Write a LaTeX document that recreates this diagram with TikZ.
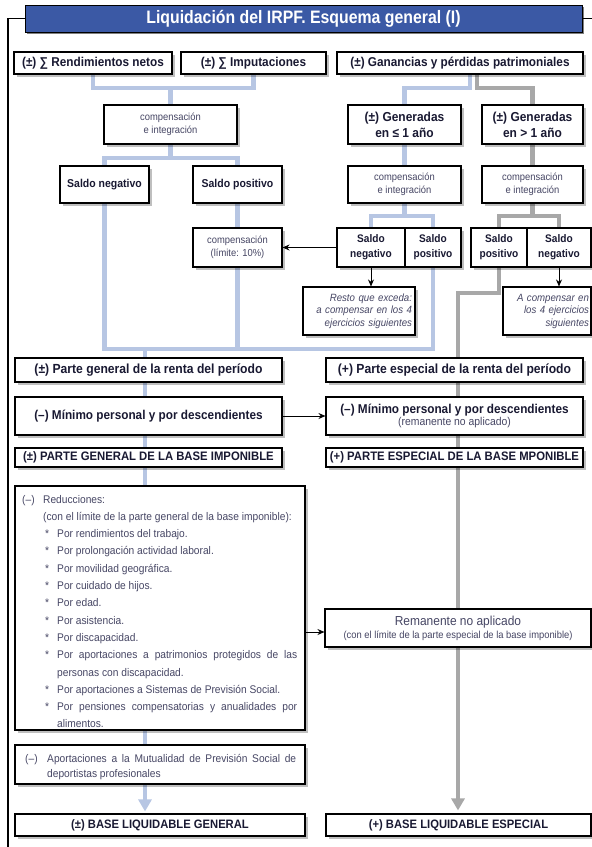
\documentclass[tikz,border=0pt]{standalone}
\usepackage{fontspec}
\setmainfont{Liberation Sans}
\newfontfamily\cf[FakeStretch=0.92]{Liberation Sans}
\newfontfamily\tf[FakeStretch=0.88]{Liberation Sans}
\usetikzlibrary{shadows,arrows.meta,backgrounds}
\definecolor{lb}{RGB}{183,198,227}
\definecolor{gl}{RGB}{168,168,168}
\definecolor{tb}{RGB}{59,89,165}
\definecolor{tx}{RGB}{25,25,50}
\definecolor{lt}{RGB}{70,70,100}
\newcommand\hdrline[3]{\par\noindent\hangindent=#1\hangafter=1\makebox[#1][l]{#2}#3\par}
\newcommand\ritem[1]{\par\noindent\hangindent=35pt\hangafter=1\hspace*{23pt}\makebox[12pt][l]{*}#1\par}
\newcommand\fs[2]{\fontsize{#1}{#2}\selectfont}
\begin{document}
\begin{tikzpicture}[x=1pt,y=-1pt,
  box/.style={draw=black, line width=1.1pt, fill=white, inner sep=1pt, align=center, text=tx,
    drop shadow={shadow xshift=2.5pt, shadow yshift=-2.5pt, fill=black, opacity=0.25}},
  bt/.style={font=\cf\bfseries\fs{12.8}{15}},
  lx/.style={font=\cf\fs{10.2}{13}, text=lt},
  bl/.style={draw=lb, line width=4.5pt},
  gr/.style={draw=gl, line width=4.5pt},
  arr/.style={draw=black, line width=0.9pt, -{Stealth[length=7pt,width=6pt]}},
  frame/.style={draw=black, line width=1.1pt}
]
\useasboundingbox (0,0) rectangle (592,847);
\clip (0,0) rectangle (592,847);
% title
\node[fill=tb, draw=black, line width=0.6pt, minimum width=557pt, minimum height=27pt, inner sep=0pt,
  text=white, font=\tf\bfseries\fs{18}{20},
  drop shadow={shadow xshift=2pt, shadow yshift=-2pt, fill=black, opacity=0.5}] (title) at (303.5,18.5)
  {Liquidación del IRPF. Esquema general (I)};
% row 1
\node[box,bt,minimum width=158pt,minimum height=22pt] (rend) at (93,63) {(±) ∑ Rendimientos netos};
\node[box,bt,minimum width=145pt,minimum height=22pt] (imput) at (253.5,63) {(±) ∑ Imputaciones};
\node[box,bt,minimum width=246pt,minimum height=22pt] (ganan) at (460,63) {(±) Ganancias y pérdidas patrimoniales};
% left branch
\node[box,lx,minimum width=133pt,minimum height=39pt] (comp1) at (170.5,124.5) {compensación\\e integración};
\node[box,font=\cf\bfseries\fs{11.4}{15},minimum width=89pt,minimum height=37pt] (sneg1) at (104.5,184.5) {Saldo negativo};
\node[box,font=\cf\bfseries\fs{11.4}{15},minimum width=89pt,minimum height=37pt] (spos1) at (237.5,184.5) {Saldo positivo};
\node[box,lx,minimum width=89pt,minimum height=39pt,font=\cf\fs{10.2}{12.5}] (comp10) at (237.5,247.5) {compensación\\(límite: 10\%)};
% right branch
\node[box,minimum width=113pt,minimum height=39pt,font=\cf\bfseries\fs{13}{16}] (gen1) at (404.5,124.5) {(±) Generadas\\en ≤ 1 año};
\node[box,minimum width=101pt,minimum height=39pt,font=\cf\bfseries\fs{13}{16}] (gen2) at (532.5,124.5) {(±) Generadas\\en > 1 año};
\node[box,lx,minimum width=113pt,minimum height=37pt] (comp2) at (404.5,184.5) {compensación\\e integración};
\node[box,lx,minimum width=101pt,minimum height=37pt] (comp3) at (532.5,184.5) {compensación\\e integración};
\node[box,font=\cf\bfseries\fs{11}{15},minimum width=68pt,minimum height=39pt] (sneg2) at (371,247.5) {Saldo\\negativo};
\node[box,font=\cf\bfseries\fs{11}{15},minimum width=56pt,minimum height=39pt] (spos2) at (433,247.5) {Saldo\\positivo};
\node[box,font=\cf\bfseries\fs{11}{15},minimum width=56pt,minimum height=39pt] (spos3) at (499,247.5) {Saldo\\positivo};
\node[box,font=\cf\bfseries\fs{11}{15},minimum width=64pt,minimum height=39pt] (sneg3) at (559,247.5) {Saldo\\negativo};
\node[box,minimum width=112pt,minimum height=48pt,text width=106pt,align=right,text=lt,
  font=\cf\itshape\fs{10.5}{12.5}] (resto) at (359,311) {Resto que exceda:\\a compensar en los 4\\ejercicios siguientes};
\node[box,minimum width=88pt,minimum height=48pt,text width=84pt,align=right,text=lt,
  font=\cf\itshape\fs{10.5}{12.5}] (acomp) at (547,311) {A compensar en\\los 4 ejercicios\\siguientes};
% middle rows
\node[box,font=\cf\bfseries\fs{13.2}{15},minimum width=267pt,minimum height=24pt] (pgen) at (148.5,370) {(±) Parte general de la renta del período};
\node[box,font=\cf\bfseries\fs{13.2}{15},minimum width=257pt,minimum height=24pt] (pesp) at (454.5,370) {(+) Parte especial de la renta del período};
\node[box,font=\cf\bfseries\fs{12.8}{15},minimum width=267pt,minimum height=38pt] (min1) at (148.5,416) {(–) Mínimo personal y por descendientes};
\node[box,minimum width=257pt,minimum height=38pt] (min2) at (454.5,416)
  {{\cf\bfseries\fs{12.8}{14}(–) Mínimo personal y por descendientes}\\[0pt]
   {\cf\fs{11.3}{12}\color{lt}(remanente no aplicado)}};
\node[box,font=\cf\bfseries\fs{12.3}{15},minimum width=267pt,minimum height=19pt] (pgb) at (148.5,457.5) {(±) PARTE GENERAL DE LA BASE IMPONIBLE};
\node[box,font=\cf\bfseries\fs{12.3}{15},minimum width=257pt,minimum height=19pt] (peb) at (454.5,457.5) {(+) PARTE ESPECIAL DE LA BASE MPONIBLE};
% reducciones
\node[box,minimum width=290pt,minimum height=244pt] (red) at (160,608) {};
\node[anchor=north west, text width=275pt, inner sep=0pt, align=justify, text=lt,
  font=\cf\fs{11.1}{17.3}] (redtxt) at (22,485.5) {\parskip=0pt
  \hdrline{21pt}{(–)}{Reducciones:\\(con el límite de la parte general de la base imponible):}
  \ritem{Por rendimientos del trabajo.}
  \ritem{Por prolongación actividad laboral.}
  \ritem{Por movilidad geográfica.}
  \ritem{Por cuidado de hijos.}
  \ritem{Por edad.}
  \ritem{Por asistencia.}
  \ritem{Por discapacidad.}
  \ritem{Por aportaciones a patrimonios protegidos de las\linebreak personas con discapacidad.}
  \ritem{Por aportaciones a Sistemas de Previsión Social.}
  \ritem{Por pensiones compensatorias y anualidades por\linebreak alimentos.}};
\node[box,minimum width=266pt,minimum height=38pt] (reman) at (458,628)
  {{\cf\fs{13}{14}\color{lt}Remanente no aplicado}\\[1pt]
   {\cf\fs{10.2}{11}\color{lt}(con el límite de la parte especial de la base imponible)}};
% aportaciones
\node[box,minimum width=290pt,minimum height=39pt] (aport) at (160,764.5) {};
\node[anchor=north west, text width=271pt, inner sep=0pt, align=justify, text=lt,
  font=\cf\fs{11.1}{15}] (aporttxt) at (25,747.5) {\parskip=0pt
  \hdrline{22pt}{(–)}{Aportaciones a la Mutualidad de Previsión Social de\linebreak deportistas profesionales}};
% bottom
\node[box,font=\cf\bfseries\fs{12.2}{15},minimum width=290pt,minimum height=22pt] (blg) at (160,825) {(±) BASE LIQUIDABLE GENERAL};
\node[box,font=\cf\bfseries\fs{12.2}{15},minimum width=265pt,minimum height=22pt] (ble) at (458.5,825) {(+) BASE LIQUIDABLE ESPECIAL};
% frame
\draw[frame] (title.west) -| (8,850);
\draw[frame] (title.east) -- (600,18.5);
% connectors
\begin{scope}[on background layer]
\coordinate (ja) at (170.5,88);
\draw[bl] (rend.south) |- (ja) -| (imput.south);
\draw[bl] (ja) -- (comp1.north);
\coordinate (jb) at (170.5,158);
\draw[bl] (comp1.south) -- (jb);
\draw[bl] (sneg1.north) |- (jb) -| (spos1.north);
\coordinate (jc) at (104.5,349);
\coordinate (jd) at (433,349);
\draw[bl] (sneg1.south) -- (jc) -- (jd) -- (spos2.south);
\draw[bl] (spos1.south) -- (comp10.north);
\draw[bl] (comp10.south) -- (comp10.south |- jc);
\coordinate (je) at (145,349);
\draw[bl, -{Triangle[length=12pt,width=13pt]}, shorten >=2pt] (je) -- (je |- blg.north);
\coordinate (jf) at (404.5,88);
\draw[bl] ([xshift=10pt]ganan.south) |- (jf) -- (gen1.north);
\draw[bl] (gen1.south) -- (comp2.north);
\coordinate (jg) at (404.5,216);
\draw[bl] (comp2.south) -- (jg);
\draw[bl] (sneg2.north) |- (jg) -| (spos2.north);
\coordinate (jh) at (532.5,88);
\draw[gr] ([xshift=17pt]ganan.south) |- (jh) -- (gen2.north);
\draw[gr] (gen2.south) -- (comp3.north);
\coordinate (ji) at (532.5,216);
\draw[gr] (comp3.south) -- (ji);
\draw[gr] (spos3.north) |- (ji) -| (sneg3.north);
\coordinate (jk) at (458,293);
\draw[gr, -{Triangle[length=12pt,width=13pt]}, shorten >=3pt] (spos3.south) |- (jk) -- (jk |- ble.north);
\end{scope}
\draw[arr] (sneg2.west) -- (comp10.east);
\draw[arr] (sneg2.south) -- (sneg2.south |- resto.north);
\draw[arr] (sneg3.south) -- (sneg3.south |- acomp.north);
\draw[arr] (min1.east) -- (min2.west);
\draw[arr] (red.east |- 0,632) -- (reman.west |- 0,632);
\end{tikzpicture}
\end{document}
